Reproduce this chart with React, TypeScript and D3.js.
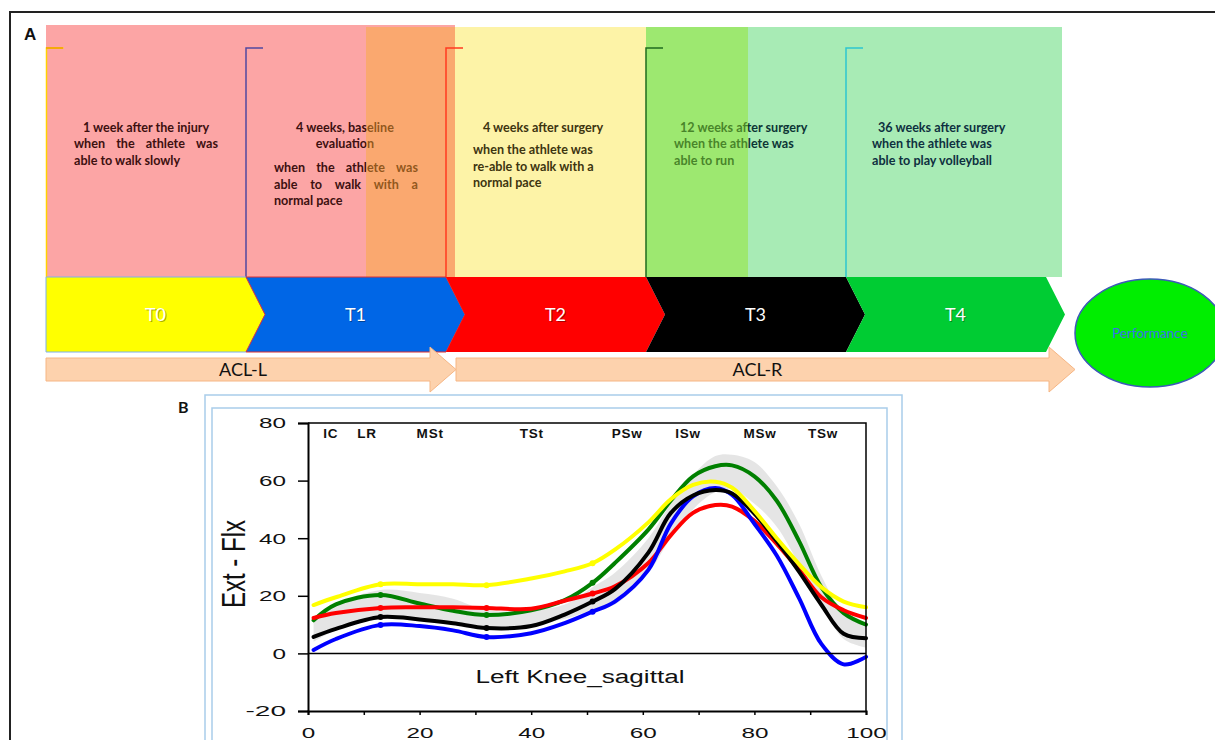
import React, { useEffect, useRef } from "react";
import * as d3 from "d3";

// panel A
const stages = ["T0", "T1", "T2", "T3", "T4"];
const stageColors = ["#ffff00", "#0066e6", "#ff0000", "#000000", "#00cc33"];
const stageNotes = [
  ["1 week after the injury", "when the athlete was", "able to walk slowly"],
  ["4 weeks, baseline", "evaluation", "when the athlete was", "able to walk with a", "normal pace"],
  ["4 weeks after surgery", "when the athlete was", "re-able to walk with a", "normal pace"],
  ["12 weeks after surgery", "when the athlete was", "able to run"],
  ["36 weeks after surgery", "when the athlete was", "able to play volleyball"],
];
const legs = ["ACL-L", "ACL-R"];
const goal = "Performance";

// panel B: knee sagittal angle over the gait cycle (%)
const phases = ["IC", "LR", "MSt", "TSt", "PSw", "ISw", "MSw", "TSw"];
const phasePct = [4.1, 10.6, 21.9, 40.1, 57.2, 68.1, 81, 92.3];
const gaitPct = [1, 5, 13, 20, 26, 32, 40, 46, 51, 55, 61, 65, 69, 73, 76, 80, 84, 88, 92, 96, 100];
const normLow = [4, 8, 12, 12, 10, 9, 10, 12, 15, 17, 28, 40, 50, 56, 57, 52, 44, 31, 17, 5, 2];
const normHigh = [12, 17, 22, 21, 19, 15, 15, 17, 23, 28, 40, 52, 62, 68.5, 69, 66.5, 58, 45, 27, 14, 9];
const greenT = [11.5, 17, 20.3, 17.3, 14.8, 13.3, 15, 18.5, 24.5, 31.4, 43, 53, 61.5, 65, 65.3, 61.5, 53, 39, 23, 14, 10];
const redT = [12.3, 14, 15.8, 16, 16, 15.8, 15.5, 18.3, 20.8, 23.3, 31.4, 41, 48.8, 51.5, 51, 46, 38, 29, 19.5, 15, 12.3];
const blueT = [1.2, 5, 9.9, 9.5, 8, 5.7, 7, 10.5, 14.5, 18, 29, 45, 54.5, 57.4, 55, 45, 34, 19.2, 3.3, -3.8, -1.2];
const blackT = [5.7, 8.5, 12.6, 11.8, 10.5, 8.8, 9.5, 13.5, 18, 22.3, 35, 48.7, 54.8, 56.7, 55.5, 48.5, 39, 28.4, 16.9, 6.8, 5.3];
const yellowT = [16.8, 19.5, 24, 24, 24, 23.7, 26, 28.5, 31.3, 36, 45.5, 53.5, 58.5, 59.6, 57.5, 49.5, 40, 31, 23, 18, 16];
const yTicks = [-20, 0, 20, 40, 60, 80];
const xTicks = [0, 10, 20, 30, 40, 50, 60, 70, 80, 90, 100];

const series = [
  { values: greenT, color: "#008000" },
  { values: redT, color: "#ff0000" },
  { values: blueT, color: "#0000ff" },
  { values: blackT, color: "#000000" },
  { values: yellowT, color: "#ffff00" },
];

const serifless = "Lato, 'Open Sans', sans-serif";
const arial = "'Liberation Sans', Arial, sans-serif";

function App() {
  const ref = useRef<SVGSVGElement>(null);

  useEffect(() => {
    document.body.style.margin = "0";
    const svg = d3.select(ref.current);
    svg.selectAll("*").remove();

    // ---------- panel A ----------
    const b = d3.scaleLinear().domain([0, 5]).range([46, 1046]);
    const top = 277, bot = 352, mid = 314.5, tip = 19;

    svg.append("rect").attr("x", b(0)).attr("y", 25).attr("width", b(2) + 9 - b(0)).attr("height", 252).attr("fill", "#fca5a5");
    svg.append("rect").attr("x", b(2) + 9).attr("y", 27).attr("width", b(3) - b(2) - 9).attr("height", 250).attr("fill", "#fdf3a7");
    svg.append("rect").attr("x", b(3)).attr("y", 27).attr("width", b(5) + 16 - b(3)).attr("height", 250).attr("fill", "#a8ebb5");

    const textCol = ["#3d1010", "#3d1010", "#3d3510", "#0c3535", "#0e3040"];
    // per stage: [kind, x or [x0,x1], baseline]
    const layout: any[][] = [
      [["c", 146, 132], ["j", [74, 218], 148], ["l", 74, 165]],
      [["c", 345, 132], ["c", 345, 148], ["j", [274, 418], 172], ["j", [274, 418], 189], ["l", 274, 205]],
      [["l", 483, 132], ["l", 473, 154], ["l", 473, 171], ["l", 473, 187]],
      [["l", 680, 132], ["l", 674, 148], ["l", 674, 165]],
      [["l", 878, 132], ["l", 872, 148], ["l", 872, 165]],
    ];
    const notes = svg.append("g").attr("font-family", serifless).attr("font-weight", 700).attr("font-size", 12.6);
    stageNotes.forEach((lines, si) => {
      lines.forEach((str, li) => {
        const [kind, pos, yb] = layout[si][li];
        if (kind === "j") {
          const words = str.split(" ");
          const nodes = words.map(w => notes.append("text").attr("y", yb).attr("fill", textCol[si]).text(w));
          const widths = nodes.map(n => (n.node() as SVGTextElement).getComputedTextLength());
          const gap = (pos[1] - pos[0] - d3.sum(widths)) / (words.length - 1);
          let cx = pos[0];
          nodes.forEach((n, k) => { n.attr("x", cx); cx += widths[k] + gap; });
        } else {
          notes.append("text").attr("x", pos).attr("y", yb).attr("fill", textCol[si])
            .attr("text-anchor", kind === "c" ? "middle" : "start").text(str);
        }
      });
    });

    // tinted overlaps on top of the notes
    svg.append("rect").attr("x", 366).attr("y", 27).attr("width", b(2) + 9 - 366).attr("height", 250).attr("fill", "#f8ac2f").attr("opacity", 0.45);
    svg.append("rect").attr("x", b(3)).attr("y", 27).attr("width", 102).attr("height", 250).attr("fill", "#90e41c").attr("opacity", 0.45);

    // brackets
    const brCol = ["#ffd200", "#5048a0", "#ff3a20", "#1f6b1f", "#2cc6d0"];
    stages.forEach((s, i) => {
      const x0 = b(i) + (i === 0 ? 0.5 : 0);
      svg.append("path").attr("d", `M${x0 + 17},48H${x0}V${top}`).attr("fill", "none")
        .attr("stroke", brCol[i]).attr("stroke-width", 1.5);
    });
    svg.append("line").attr("x1", b(0)).attr("x2", b(0) + 17).attr("y1", 48).attr("y2", 48).attr("stroke", "#f0a000").attr("stroke-width", 1.5);

    // chevrons
    stages.forEach((s, i) => {
      const x0 = b(i), x1 = b(i + 1);
      const d = i === 0
        ? `M${x0},${top}L${x1},${top}L${x1 + tip},${mid}L${x1},${bot}L${x0},${bot}Z`
        : `M${x0},${top}L${x1},${top}L${x1 + tip},${mid}L${x1},${bot}L${x0},${bot}L${x0 + tip},${mid}Z`;
      svg.append("path").attr("d", d).attr("fill", stageColors[i])
        .attr("stroke", i === 0 ? "#7fb0e8" : i === 1 ? "#e03030" : "none").attr("stroke-width", 1);
      const cx = (x0 + x1) / 2 + tip / 2;
      svg.append("text").attr("x", cx + 1).attr("y", mid + 7).attr("text-anchor", "middle")
        .attr("font-family", serifless).attr("font-size", 18).attr("fill", "rgba(0,0,0,0.35)").text(s);
      svg.append("text").attr("x", cx).attr("y", mid + 6).attr("text-anchor", "middle")
        .attr("font-family", serifless).attr("font-size", 18).attr("fill", "#ffffff").text(s);
    });

    // ACL arrows
    const arrowEnds = [[b(0), b(2) + 10], [b(2) + 10, b(5) + 29]];
    legs.forEach((lab, i) => {
      const [a0, a1] = arrowEnds[i];
      const hb = a1 - 26, cy = 369.5;
      svg.append("path")
        .attr("d", `M${a0},${cy - 11.5}H${hb}V${cy - 22.5}L${a1},${cy}L${hb},${cy + 22.5}V${cy + 11.5}H${a0}Z`)
        .attr("fill", "#fdd2ad").attr("stroke", "#f6b684").attr("stroke-width", 1);
      svg.append("text").attr("x", (a0 + hb) / 2 + 5).attr("y", cy + 6).attr("text-anchor", "middle")
        .attr("font-family", serifless).attr("font-size", 18).attr("fill", "#111").text(lab);
    });

    svg.append("ellipse").attr("cx", 1150).attr("cy", 333).attr("rx", 75).attr("ry", 54)
      .attr("fill", "#00ee00").attr("stroke", "#3c5ab8").attr("stroke-width", 1.5);
    svg.append("text").attr("x", 1150).attr("y", 338).attr("text-anchor", "middle")
      .attr("font-family", serifless).attr("font-size", 13.5).attr("fill", "#3a6ee8").text(goal);

    svg.append("text").attr("x", 24).attr("y", 40).attr("font-family", arial).attr("font-weight", 700)
      .attr("font-size", 17).attr("fill", "#111").text("A");

    // ---------- panel B ----------
    svg.append("text").attr("x", 178).attr("y", 413).attr("font-family", serifless).attr("font-weight", 700)
      .attr("font-size", 16).attr("fill", "#111").text("B");
    svg.append("rect").attr("x", 205).attr("y", 395).attr("width", 697).attr("height", 400)
      .attr("fill", "none").attr("stroke", "#a9cdea").attr("stroke-width", 1.5);
    svg.append("rect").attr("x", 212).attr("y", 408).attr("width", 675).attr("height", 400)
      .attr("fill", "none").attr("stroke", "#a9cdea").attr("stroke-width", 1.5);

    const x = d3.scaleLinear().domain([0, 100]).range([308, 866]);
    const y = d3.scaleLinear().domain([-20, 80]).range([711, 423]);
    const plot = svg.append("g");

    const band = d3.area<number>()
      .x((d, i) => x(gaitPct[i]))
      .y0((d, i) => y(normLow[i]))
      .y1(d => y(d))
      .curve(d3.curveCatmullRom);
    plot.append("path").attr("d", band(normHigh)).attr("fill", "#dedede").attr("opacity", 0.8);

    const line = d3.line<number>()
      .x((d, i) => x(gaitPct[i]))
      .y(d => y(d))
      .curve(d3.curveCatmullRom);
    series.forEach(s => {
      plot.append("path").attr("d", line(s.values)).attr("fill", "none")
        .attr("stroke", s.color).attr("stroke-width", 4).attr("stroke-linecap", "round");
      [2, 5, 8].forEach(k => {
        plot.append("circle").attr("cx", x(gaitPct[k])).attr("cy", y(s.values[k])).attr("r", 3).attr("fill", s.color);
      });
    });

    // frame and zero line
    plot.append("path").attr("d", `M${x(0)},${y(80)}H${x(100)}V${y(-20)}`).attr("fill", "none").attr("stroke", "#000").attr("stroke-width", 1.5);
    plot.append("line").attr("x1", x(0)).attr("x2", x(100)).attr("y1", y(0)).attr("y2", y(0)).attr("stroke", "#000").attr("stroke-width", 1.5);

    const yAxis = d3.axisLeft(y).tickValues(yTicks).tickSize(10).tickPadding(12).tickFormat(d => String(d));
    const gy = svg.append("g").attr("transform", `translate(${x(0)},0)`).call(yAxis);
    const xAxis = d3.axisBottom(x).tickValues(xTicks).tickSize(4).tickPadding(12)
      .tickFormat(d => ((d as number) % 20 === 0 ? String(d) : ""));
    const gx = svg.append("g").attr("transform", `translate(0,${y(-20)})`).call(xAxis);
    [gx, gy].forEach(g => {
      g.select(".domain").attr("stroke", "#000").attr("stroke-width", 2);
      g.selectAll(".tick line").attr("stroke", "#000").attr("stroke-width", 1.5);
      g.selectAll("text").attr("font-family", arial).attr("font-size", 15).attr("fill", "#111")
        .attr("lengthAdjust", "spacingAndGlyphs")
        .attr("textLength", function () { return (this as SVGTextElement).textContent!.length * 13.5; });
    });

    plot.selectAll(".phase").data(phases).join("text")
      .attr("x", (d, i) => x(phasePct[i])).attr("y", 438).attr("text-anchor", "middle")
      .attr("font-family", arial).attr("font-weight", 700).attr("font-size", 13.5).attr("letter-spacing", 0.8)
      .attr("fill", "#111").text(d => d);

    plot.append("text").attr("x", 580).attr("y", 683).attr("text-anchor", "middle")
      .attr("font-family", arial).attr("font-size", 18).attr("fill", "#111")
      .attr("textLength", 209).attr("lengthAdjust", "spacingAndGlyphs").text("Left Knee_sagittal");

    plot.append("text").attr("transform", "translate(245,564) rotate(-90)").attr("text-anchor", "middle")
      .attr("font-family", arial).attr("font-size", 33).attr("fill", "#111")
      .attr("textLength", 88).attr("lengthAdjust", "spacingAndGlyphs").text("Ext - Flx");

    // outer frame
    svg.append("rect").attr("x", 10).attr("y", 12).attr("width", 1230).attr("height", 760)
      .attr("fill", "none").attr("stroke", "#222").attr("stroke-width", 2);
  }, []);

  return <svg ref={ref} width={1215} height={740} style={{ display: "block", background: "#fff" }} />;
}

export default App;
